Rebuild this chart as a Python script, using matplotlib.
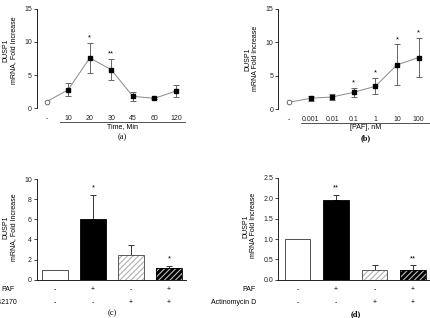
import matplotlib
matplotlib.use("Agg")
import matplotlib.pyplot as plt
import matplotlib.transforms as mtransforms

plt.rcParams['font.family'] = ['Liberation Sans', 'DejaVu Sans']
plt.rcParams['hatch.linewidth'] = 0.8

# ---------------- data ----------------
a_labels = ['-', '10', '20', '30', '45', '60', '120']
a_mean = [1.0, 2.8, 7.6, 5.8, 1.8, 1.5, 2.6]
a_err = [0.0, 1.0, 2.3, 1.6, 0.7, 0.15, 0.85]
a_sig = ['', '', '*', '**', '', '', '']

b_labels = ['-', '0.001', '0.01', '0.1', '1', '10', '100']
b_mean = [1.0, 1.6, 1.8, 2.5, 3.4, 6.6, 7.7]
b_err = [0.0, 0.35, 0.45, 0.7, 1.2, 3.05, 2.9]
b_sig = ['', '', '', '*', '*', '*', '*']

c_mean = [1.0, 6.0, 2.5, 1.15]
c_err = [0.0, 2.4, 0.9, 0.25]
c_sig = ['', '*', '', '*']
c_paf = ['-', '+', '-', '+']
c_web = ['-', '-', '+', '+']

d_mean = [1.0, 1.97, 0.23, 0.23]
d_err = [0.0, 0.11, 0.12, 0.12]
d_sig = ['', '**', '', '**']
d_paf = ['-', '+', '-', '+']
d_act = ['-', '-', '+', '+']

W, H = 430, 318
fig = plt.figure(figsize=(W / 100, H / 100), dpi=100)


def px_axes(l, t, r, b):
    return fig.add_axes([l / W, 1 - b / H, (r - l) / W, (b - t) / H])


def style(ax, bottom_spine):
    for s in ['top', 'right']:
        ax.spines[s].set_visible(False)
    ax.spines['bottom'].set_visible(bottom_spine)
    ax.spines['left'].set_linewidth(0.6)
    ax.spines['bottom'].set_linewidth(0.6)
    ax.tick_params(axis='y', direction='out', length=2, width=0.6, pad=1.5,
                   labelsize=5, colors='#222')
    ax.tick_params(axis='x', length=0, pad=5, labelsize=5, colors='#222')


def line_panel(ax, labels, mean, err, sig, xl, xlabel, panel, bold, underline_start):
    x = list(range(len(labels)))
    ax.plot(x, mean, color='#888888', lw=0.7, zorder=1)
    ax.errorbar(x[1:], mean[1:], yerr=err[1:], fmt='none', ecolor='#666666',
                elinewidth=0.7, capsize=2, capthick=0.7, zorder=2)
    ax.plot(x[1:], mean[1:], 's', color='black', ms=3.4, zorder=3)
    ax.plot(x[:1], mean[:1], 'o', mfc='white', mec='#555555', ms=3.4, mew=0.6, zorder=3)
    for xi, m, e, s in zip(x, mean, err, sig):
        if s:
            ax.annotate(s, (xi, m + e), xytext=(0, 3.5), textcoords='offset points',
                        ha='center', va='center', fontsize=5.5)
    ax.set_xlim(*xl)
    ax.set_ylim(0, 15)
    ax.set_yticks([0, 5, 10, 15])
    ax.set_xticks(x)
    ax.set_xticklabels(labels)
    trans = mtransforms.blended_transform_factory(ax.transData, ax.transAxes)
    ax.plot([underline_start, xl[1]], [-0.14, -0.14], transform=trans, color='#333333',
            lw=0.6, clip_on=False)
    ax.text((underline_start + xl[1]) / 2, -0.185, xlabel, transform=trans,
            ha='center', va='center', fontsize=5)
    ax.text((underline_start + xl[1]) / 2, -0.29, panel, transform=trans, ha='center',
            va='center', fontsize=6, family=['Liberation Serif'],
            fontweight='bold' if bold else 'normal')


# ---------------- panel a ----------------
axa = px_axes(36.7, 8.7, 185, 108.3)
style(axa, False)
line_panel(axa, a_labels, a_mean, a_err, a_sig, (-0.464, 6.42), 'Time, Min', '(a)', False, 0.62)
axa.set_ylabel('DUSP1\nmRNA, Fold Increase', fontsize=5, linespacing=1.1)
axa.yaxis.set_label_coords(-0.135, 0.585)

# ---------------- panel b ----------------
axb = px_axes(278.3, 8.7, 430, 109)
style(axb, False)
line_panel(axb, b_labels, b_mean, b_err, b_sig, (-0.495, 6.53), '[PAF], nM', '(b)', True, 0.55)
axb.set_ylabel('DUSP1\nmRNA Fold Increase', fontsize=5, linespacing=1.1)
axb.yaxis.set_label_coords(-0.13, 0.5)


def bar_panel(ax, mean, err, sig, xl, yl, yt, fmt, rows, names, name_xs, panel, bold):
    x = list(range(len(mean)))
    w = 0.67
    ax.bar(x[0], mean[0], w, color='white', edgecolor='#333333', lw=0.6, zorder=2)
    ax.bar(x[1], mean[1], w, color='black', edgecolor='black', lw=0.6, zorder=2)
    ax.bar(x[2], mean[2], w, color='white', edgecolor='#b0b0b0', lw=0, hatch='//////', zorder=2)
    ax.bar(x[2], mean[2], w, color='none', edgecolor='#444444', lw=0.6, zorder=3)
    ax.bar(x[3], mean[3], w, color='black', edgecolor='#bbbbbb', lw=0, hatch='//////', zorder=2)
    ax.bar(x[3], mean[3], w, color='none', edgecolor='black', lw=0.6, zorder=3)
    lo = [0] * len(err)
    ax.errorbar(x[1:], mean[1:], yerr=[lo[1:], err[1:]], fmt='none', ecolor='#333333',
                elinewidth=0.7, capsize=2.5, capthick=0.7, zorder=1)
    for xi, m, e, s in zip(x, mean, err, sig):
        if s:
            ax.annotate(s, (xi, m + e), xytext=(0, 5), textcoords='offset points',
                        ha='center', va='center', fontsize=5.5)
    ax.set_xlim(*xl)
    ax.set_ylim(*yl)
    ax.set_yticks(yt)
    ax.set_yticklabels([fmt.format(v) for v in yt])
    ax.set_xticks([])
    trans = mtransforms.blended_transform_factory(ax.transData, ax.transAxes)
    ys = [-0.095, -0.225]
    for row, name, nx, yy in zip(rows, names, name_xs, ys):
        for xi, s in zip(x, row):
            ax.text(xi, yy, s, transform=trans, ha='center', va='center', fontsize=5)
        ax.text(nx, yy, name, transform=ax.transAxes, ha='right', va='center', fontsize=5)
    ax.text(1.5, -0.335, panel, transform=trans, ha='center', va='center', fontsize=6,
            family=['Liberation Serif'], fontweight='bold' if bold else 'normal')


# ---------------- panel c ----------------
axc = px_axes(36.7, 179, 185.7, 279.7)
style(axc, True)
bar_panel(axc, c_mean, c_err, c_sig, (-0.48, 3.44), (0, 10), [0, 2, 4, 6, 8, 10], '{:g}',
          [c_paf, c_web], ['PAF', 'WEB2170'], [-0.146, -0.125], '(c)', False)
axc.set_ylabel('DUSP1\nmRNA, Fold Increase', fontsize=5, linespacing=1.1)
axc.yaxis.set_label_coords(-0.135, 0.52)

# ---------------- panel d ----------------
axd = px_axes(278.3, 178, 430, 279.7)
style(axd, True)
bar_panel(axd, d_mean, d_err, d_sig, (-0.5, 3.44), (0, 2.5), [0, 0.5, 1.0, 1.5, 2.0, 2.5],
          '{:.1f}', [d_paf, d_act], ['PAF', 'Actinomycin D'], [-0.147, -0.147], '(d)', True)
axd.set_ylabel('DUSP1\nmRNA Fold Increase', fontsize=5, linespacing=1.1)
axd.yaxis.set_label_coords(-0.14, 0.53)

fig.savefig('out.png', dpi=100)
